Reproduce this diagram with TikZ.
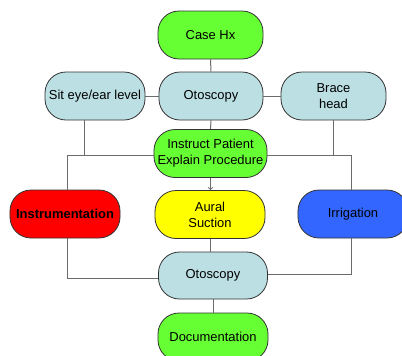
\documentclass[tikz,border=0pt]{standalone}
\usepackage{fontspec}
\setmainfont{Liberation Sans}
\usepackage{tikz}
\usetikzlibrary{calc}

\definecolor{boxgreen}{HTML}{66FF33}
\definecolor{boxblue}{HTML}{BBDFE3}
\definecolor{boxred}{HTML}{FF0000}
\definecolor{boxyellow}{HTML}{FFFF00}
\definecolor{boxdeep}{HTML}{3366FF}
\definecolor{linegray}{HTML}{6B6B6B}
\definecolor{edgegray}{HTML}{333333}

\tikzset{
  pill/.style = {draw = edgegray, line width = 0.8bp, rounded corners = 21bp,
                 minimum height = 48bp, inner sep = 0pt, align = center,
                 font = \fontsize{13}{16}\selectfont},
  link/.style = {draw = linegray, line width = 1bp}
}

\begin{document}
\begin{tikzpicture}[x = 1bp, y = -1bp]
            \useasboundingbox (0,0) rectangle (402,356);
            \node at (210.5,35) [pill, fill = boxgreen, minimum width = 105bp] (case) {Case Hx};
            \node at (211,96) [pill, fill = boxblue, minimum width = 104bp] (oto1) {Otoscopy};
            \node at (95,96) [pill, fill = boxblue, minimum width = 100bp] (sit) {Sit eye/ear level};
            \node at (333.5,96) [pill, fill = boxblue, minimum width = 105bp] (brace) {Brace\\head};
            \node at (210.5,153.5) [pill, fill = boxgreen, minimum width = 113bp] (instr) {Instruct Patient\\Explain Procedure};
            \node at (65,214) [pill, fill = boxred, minimum width = 110bp, font = \fontsize{13}{16}\selectfont\bfseries] (inst) {Instrumentation};
            \node at (210,214.5) [pill, fill = boxyellow, minimum width = 110bp] (aural) {Aural\\Suction};
            \node at (353,214) [pill, fill = boxdeep, minimum width = 110bp] (irrig) {Irrigation};
            \node at (213,275.5) [pill, fill = boxblue, minimum width = 109bp, minimum height = 47bp] (oto2) {Otoscopy};
            \node at (213,337) [pill, fill = boxgreen, minimum width = 110bp] (doc) {Documentation};
            % junctions of the split line
            \coordinate (lt) at (67,155);
            \coordinate (rt) at (351,155);
            \coordinate (sj) at (84,155);
            \coordinate (bj) at (333,155);
            \draw[link] (case) -- (oto1);
            \draw[link] (sit) -- (oto1);
            \draw[link] (oto1) -- (brace);
            \draw[link] (oto1) -- (instr);
            \draw[link] (sj |- sit.south) -- (sj);
            \draw[link] (bj |- brace.south) -- (bj);
            \draw[link] (lt) -- (lt -| instr.west);
            \draw[link] (instr.east |- rt) -- (rt);
            \draw[link] (lt) -- (lt |- inst.north);
            \draw[link] (rt) -- (rt |- irrig.north);
            \draw[link, ->] (instr.south) -- (instr.south |- aural.north);
            \draw[link] (instr.south |- aural.south) -- (instr.south |- oto2.north);
            \draw[link] (lt |- inst.south) |- ($(oto2.west) + (0,2.5)$);
            \draw[link] (rt |- irrig.south) |- ($(oto2.east) + (0,-1.5)$);
            \draw[link] (oto2) -- (doc);
          \end{tikzpicture}
\end{document}
